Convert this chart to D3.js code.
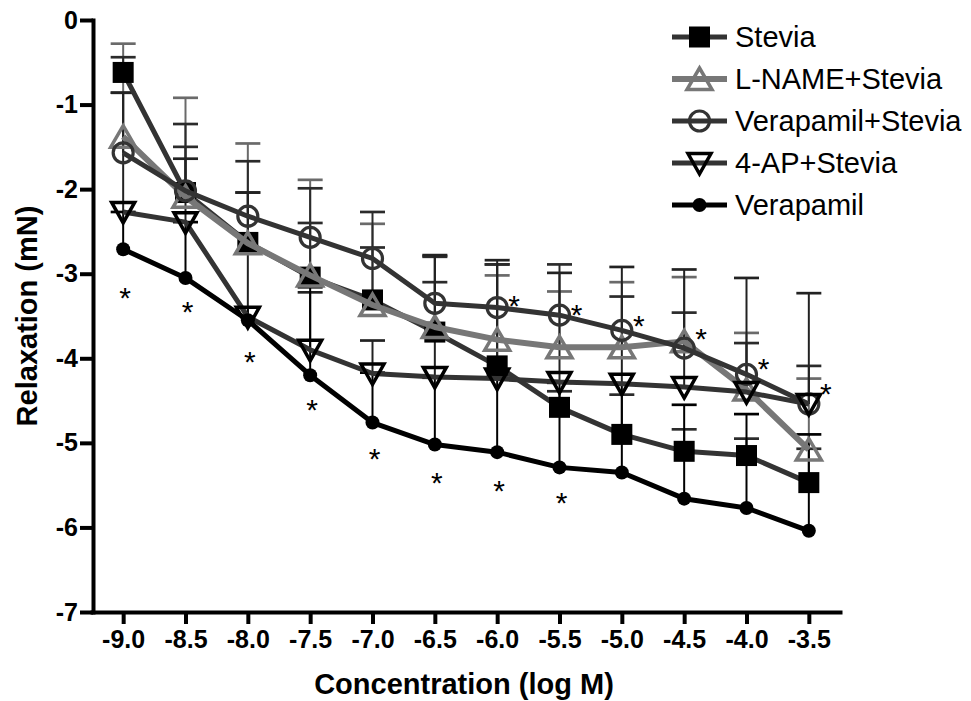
<!DOCTYPE html>
<html>
<head>
<meta charset="utf-8">
<script src="https://cdn.jsdelivr.net/npm/d3@7"></script>
<style>
  body { margin: 0; background: #fff; }
  svg { display: block; font-family: "Liberation Sans", Arial, sans-serif; }
</style>
</head>
<body>
<svg id="chart"></svg>
<script>
const size = { w: 971, h: 701 };

// concentrations (log M)
const concentrations = [-9.0, -8.5, -8.0, -7.5, -7.0, -6.5, -6.0, -5.5, -5.0, -4.5, -4.0, -3.5];
const yTicks = [0, -1, -2, -3, -4, -5, -6, -7];

// mean relaxation (mN) and upper error (SEM) per group
const stevia       = [-0.62, -2.04, -2.63, -3.04, -3.31, -3.69, -4.09, -4.58, -4.90, -5.10, -5.15, -5.47];
const steviaSem    = [0.18, 0.81, 0.96, 1.05, 1.04, 0.89, 1.20, 0.19, 0.47, 0.26, 0.20, 0.40];
const lname        = [-1.38, -2.09, -2.64, -3.02, -3.37, -3.63, -3.78, -3.87, -3.87, -3.80, -4.37, -5.08];
const lnameSem     = [1.10, 1.17, 1.18, 1.13, 0.96, 0.84, 0.76, 0.66, 0.77, 0.76, 0.67, 0.84];
const veraStevia   = [-1.57, -2.02, -2.32, -2.57, -2.82, -3.35, -3.40, -3.49, -3.67, -3.88, -4.19, -4.54];
const veraSteviaSem= [0.71, 0.52, 0.28, 0.17, 0.13, 0.25, 0.51, 0.60, 0.40, 0.42, 0.37, 0.45];
const fourAP       = [-2.27, -2.39, -3.51, -3.90, -4.18, -4.22, -4.24, -4.28, -4.30, -4.34, -4.40, -4.54];
const fourAPSem    = [1.41, 0.75, 1.47, 0.68, 0.39, 1.44, 1.40, 1.29, 1.38, 1.39, 1.35, 1.31];
const verapamil    = [-2.71, -3.05, -3.55, -4.20, -4.76, -5.02, -5.11, -5.29, -5.35, -5.66, -5.77, -6.04];
const verapamilSem = [0.44, 0.66, 0.15, 1.04, 0.59, 0.79, 0.88, 1.00, 1.05, 1.11, 1.11, 1.14];

// significance marks (*)
const starsLowX  = [-9.0, -8.5, -8.0, -7.5, -7.0, -6.5, -6.0, -5.5];
const starsLowY  = [-3.20, -3.37, -3.96, -4.53, -5.11, -5.39, -5.49, -5.63];
const starsHighX = [-6.0, -5.5, -5.0, -4.5, -4.0, -3.5];
const starsHighY = [-3.30, -3.40, -3.54, -3.69, -4.04, -4.34];

const series = [
    { name: 'Stevia', values: stevia, sem: steviaSem, line: '#333', lw: 5, sym: 'square', stroke: '#000', bar: '#2b2b2b' },
    { name: 'L-NAME+Stevia', values: lname, sem: lnameSem, line: '#777', lw: 6, sym: 'triUp', stroke: '#777', bar: '#6a6a6a' },
    { name: 'Verapamil+Stevia', values: veraStevia, sem: veraSteviaSem, line: '#333', lw: 5, sym: 'circle', stroke: '#333', bar: '#2b2b2b' },
    { name: '4-AP+Stevia', values: fourAP, sem: fourAPSem, line: '#333', lw: 5, sym: 'triDown', stroke: '#000', bar: '#222' },
    { name: 'Verapamil', values: verapamil, sem: verapamilSem, line: '#000', lw: 5, sym: 'dot', stroke: '#000', bar: '#000' }
];

const svg = d3.select('svg#chart')
    .attr('width', size.w)
    .attr('height', size.h);

const x = d3.scaleLinear().domain([-9.25, -3.25]).range([92, 840]);
const y = d3.scaleLinear().domain([-7, 0]).range([612, 20]);

// symbol shapes
function drawSymbol(g, s) {
    if (s.sym === 'square') {
        g.append('rect').attr('x', -10.5).attr('y', -10.5).attr('width', 21).attr('height', 21).attr('fill', '#000');
    } else if (s.sym === 'triUp') {
        g.append('path').attr('d', 'M0,-11L12.5,10.5L-12.5,10.5Z')
            .attr('fill', 'none').attr('stroke', s.stroke).attr('stroke-width', 3.5);
    } else if (s.sym === 'triDown') {
        g.append('path').attr('d', 'M0,11L11.5,-9.5L-11.5,-9.5Z')
            .attr('fill', 'none').attr('stroke', s.stroke).attr('stroke-width', 3.5);
    } else if (s.sym === 'circle') {
        g.append('circle').attr('r', 10).attr('fill', 'none').attr('stroke', s.stroke).attr('stroke-width', 3.2);
    } else {
        g.append('circle').attr('r', 7).attr('fill', '#000');
    }
}

// axes
const yAxis = svg.append('g')
    .attr('transform', 'translate(93,0)')
    .call(d3.axisLeft(y).tickValues(yTicks).tickFormat(d => String(d)).tickSize(13).tickSizeOuter(0).tickPadding(2));
const xAxis = svg.append('g')
    .attr('transform', 'translate(0,612)')
    .call(d3.axisBottom(x).tickValues(concentrations).tickFormat(d => d.toFixed(1)).tickSize(12).tickSizeOuter(0).tickPadding(6));

[yAxis, xAxis].forEach(a => {
    a.attr('font-family', null).attr('font-size', 25).attr('font-weight', 'bold');
    a.select('.domain').attr('stroke', '#000').attr('stroke-width', 4).attr('stroke-linecap', 'square');
    a.selectAll('.tick line').attr('stroke', '#000').attr('stroke-width', 4);
    a.selectAll('.tick text').attr('fill', '#000');
});

svg.append('text')
    .attr('transform', 'translate(37,316) rotate(-90)')
    .attr('text-anchor', 'middle')
    .attr('font-size', 29).attr('font-weight', 'bold')
    .text('Relaxation (mN)');

svg.append('text')
    .attr('x', 464).attr('y', 694)
    .attr('text-anchor', 'middle')
    .attr('font-size', 29).attr('font-weight', 'bold')
    .text('Concentration (log M)');

// error bars (gray group first so the dark caps sit on top)
const barOrder = [1, 0, 2, 3, 4];
const barsG = svg.append('g');
barOrder.forEach(k => {
    const s = series[k];
    const g = barsG.append('g').attr('stroke', s.bar);
    const pts = concentrations.map((c, i) => ({ c, v: s.values[i], top: s.values[i] + s.sem[i] }));
    g.selectAll('line.stem')
        .data(pts)
        .join('line')
        .attr('class', 'stem')
        .attr('x1', d => x(d.c)).attr('x2', d => x(d.c))
        .attr('y1', d => y(d.v)).attr('y2', d => y(d.top))
        .attr('stroke-width', 2);
    g.selectAll('line.cap')
        .data(pts)
        .join('line')
        .attr('class', 'cap')
        .attr('x1', d => x(d.c) - 12.5).attr('x2', d => x(d.c) + 12.5)
        .attr('y1', d => y(d.top)).attr('y2', d => y(d.top))
        .attr('stroke-width', 2.7);
});

// lines and symbols
const lineGen = d3.line().x(d => x(d.c)).y(d => y(d.v));
series.forEach(s => {
    const pts = concentrations.map((c, i) => ({ c, v: s.values[i] }));
    const g = svg.append('g');
    g.append('path')
        .datum(pts)
        .attr('d', lineGen)
        .attr('fill', 'none')
        .attr('stroke', s.line)
        .attr('stroke-width', s.lw)
        .attr('stroke-linejoin', 'round');
    g.selectAll('g.pt')
        .data(pts)
        .join('g')
        .attr('class', 'pt')
        .attr('transform', d => `translate(${x(d.c)},${y(d.v)})`)
        .each(function () { drawSymbol(d3.select(this), s); });
});

// asterisks
svg.append('g').selectAll('text')
    .data(starsLowX.map((c, i) => ({ c, v: starsLowY[i] })))
    .join('text')
    .attr('x', d => x(d.c) + 2)
    .attr('y', d => y(d.v))
    .attr('dy', '0.57em')
    .attr('text-anchor', 'middle')
    .attr('font-size', 30)
    .text('*');
svg.append('g').selectAll('text')
    .data(starsHighX.map((c, i) => ({ c, v: starsHighY[i] })))
    .join('text')
    .attr('x', d => x(d.c) + 17)
    .attr('y', d => y(d.v))
    .attr('dy', '0.57em')
    .attr('text-anchor', 'middle')
    .attr('font-size', 30)
    .text('*');

// legend
const legend = svg.append('g').attr('transform', 'translate(672,37)');
series.forEach((s, i) => {
    const row = legend.append('g').attr('transform', `translate(0,${i * 42})`);
    row.append('line')
        .attr('x1', 0).attr('x2', 55)
        .attr('stroke', s.line).attr('stroke-width', s.lw);
    drawSymbol(row.append('g').attr('transform', 'translate(27.5,0)'), s);
    row.append('text')
        .attr('x', 63).attr('dy', '0.35em')
        .attr('font-size', 29)
        .text(s.name);
});
</script>
</body>
</html>
